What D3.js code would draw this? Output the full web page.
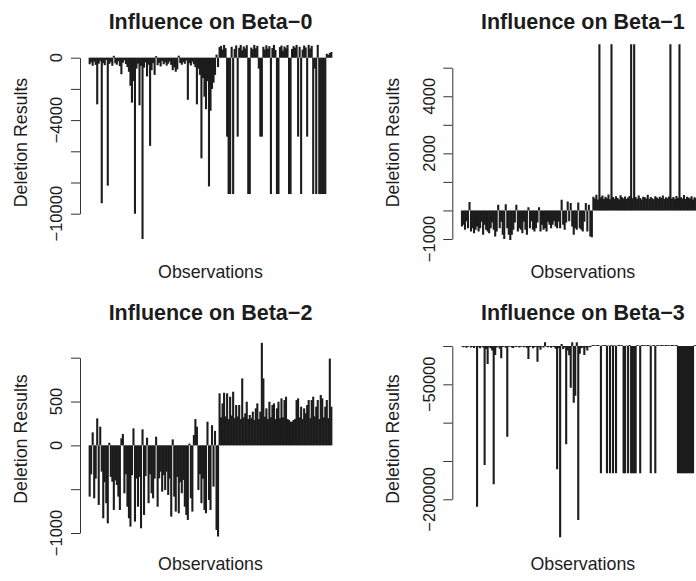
<!DOCTYPE html>
<html><head><meta charset="utf-8">
<script src="https://cdn.jsdelivr.net/npm/d3@7"></script>
<style>
html,body{margin:0;padding:0;background:#fff;}
svg{display:block;font-family:"Liberation Sans",Arial,Helvetica,sans-serif;}
</style></head>
<body>
<svg id="chart" width="696" height="581"></svg>
<script>
// ---------- DATA (observation index 1..161) ----------
const nObs = 161;
const titles = ["Influence on Beta\u22120","Influence on Beta\u22121","Influence on Beta\u22122","Influence on Beta\u22123"];
const xLabel = "Observations";
const yLabel = "Deletion Results";

const beta0 = [
-420,-300,-520,-250,-460,-2990,-380,-210,-9330,-350,
-480,-150,-8200,-400,-280,-520,120,-360,-450,-230,
-540,-1060,-320,-170,-410,-600,-900,-1800,-2880,-1500,
-10000,-700,-380,-3050,-520,-11620,-640,-300,-1200,-450,
-5650,-800,-350,-1100,100,-480,-330,-560,-210,-420,
-300,-510,-380,-240,-460,-800,-620,-900,-750,130,
-340,-450,-280,-390,-180,-2700,-350,-500,-260,-420,
-600,-2990,-700,-1100,-6450,-1300,-2500,-3300,-1500,-8250,
-3400,-2000,-1600,-1100,200,-600,
680,760,520,820,610,-5060,-8740,-8740,700,-8740,
560,790,-5060,640,820,480,720,590,800,-8740,
-8740,650,540,820,600,760,-700,-5060,-5060,700,
520,800,580,740,-8740,620,820,500,-8740,-8740,
680,780,450,720,600,810,-8740,-8740,560,740,
640,820,-5060,700,-8740,520,780,660,-5060,820,
590,760,-8740,-700,-8740,820,-8740,-8740,-8740,-8740,
-8740,250,180,300,370
];
const beta1 = [
-563,-500,-680,-380,-620,300,-738,-620,-797,-680,
-560,-740,-620,-400,-855,-500,-680,-740,-797,-620,
-420,-680,-914,-740,200,-620,-400,-855,-996,220,
-620,-855,-1031,-855,-680,-420,200,-740,-620,-680,
-797,-400,-680,-855,110,-620,-380,-680,-740,-620,
-420,110,-740,-500,-680,-620,-740,-400,-500,-620,
-500,-380,-560,-620,-400,-620,375,-500,-680,-420,
316,-380,260,-560,-855,-620,-680,280,-620,-680,
-740,-400,260,-740,200,-914,-938,
480,420,550,380,5824,460,520,400,480,430,
560,390,5824,470,410,500,440,380,530,460,
420,490,400,450,510,5824,430,5824,470,400,
520,440,380,480,460,420,550,400,470,430,
390,500,450,410,480,440,520,400,460,430,
490,5824,420,470,400,510,440,5824,460,420,
540,400,480,450,420,500,380,460,430,520,
400,470,440,490
];
const beta2 = [
-585,-330,148,-604,-380,308,-680,213,-300,-832,
-420,-660,-890,30,-360,-415,-737,-400,-452,-585,
-737,80,130,-547,-330,-700,-832,-927,-340,194,
-870,-380,-700,-360,-946,183,-794,-350,87,-660,
-330,-547,-604,-380,99,-700,-376,-300,-528,-340,
-510,-300,-566,-380,-813,68,-585,-756,-360,-775,
-420,-547,-395,-700,-794,-851,20,-604,-756,118,
300,213,-510,-330,-660,-380,-737,-775,270,-623,
-737,230,-471,165,-965,-1040,
593,320,479,600,330,593,300,555,340,612,
310,460,330,460,300,764,320,365,498,300,
346,310,384,290,422,479,300,384,1170,764,
327,422,300,498,320,460,479,300,422,498,
310,536,320,517,555,300,289,270,270,289,
300,517,536,320,441,300,422,365,460,517,
310,517,555,330,441,517,300,574,536,320,
441,517,310,990,441
];
const beta3 = [
-800,-1500,-600,-2200,-1000,-400,-1800,-900,-2600,-700,
-209600,-1200,-3000,-800,-1900,-155300,-4000,-23500,-1500,-2800,
-6000,-180400,-11700,-2000,-900,-3500,-16100,-1200,-700,-2400,
-118300,-1000,-600,-1800,-2500,-800,-1400,-500,-2000,-1100,
-700,-1600,-900,-2300,-17000,-1200,-800,-3000,-1500,-900,
-20500,-1300,-5000,-700,-1800,5000,-900,-1500,-600,-2200,
-1000,-1400,-3500,-160900,-3000,-249600,2500,-4000,-2000,-128300,
-6000,-12000,-54400,5000,-74000,-64800,5000,-227000,-10000,-3000,
-2000,-11700,-2000,-6000,-1000,-1500,
800,1200,600,1000,1400,700,-166000,1100,900,1300,
-166000,800,-166000,1200,-166000,1000,-166000,700,1300,900,
1100,-166000,-166000,800,-166000,1200,-166000,-166000,-166000,-166000,
1000,700,-166000,1300,900,1100,800,1200,1000,-166000,
700,1300,-166000,900,1100,800,1200,1000,700,1300,
900,1100,800,1200,1000,700,1300,-166000,-166000,-166000,
-166000,-166000,-166000,-166000,-166000,-166000,-166000,-166000,900,1100,
800,1200,1000,700,1300
];
const seriesValues = [beta0, beta1, beta2, beta3];

const yTickValues = [
  [0,-2000,-4000,-6000,-8000,-10000],
  [-1000,0,1000,2000,3000,4000,5000],
  [-1000,-500,0,500,1000],
  [0,-50000,-100000,-150000,-200000]
];
const yTickLabels = [
  [0,-4000,-10000],
  [-1000,2000,4000],
  [-1000,0,500],
  [-50000,-200000]
];

// ---------- LAYOUT ----------
const panels = [
  {left:80,   yPix:[57.7,213.7], clip:[37,247],  titleY:29.3, xlabY:278.3, ylabY:142.5},
  {left:452.3,yPix:[239,67.7],   clip:[37,247],  titleY:29.3, xlabY:278.3, ylabY:142.5},
  {left:80,   yPix:[533,357.7],  clip:[330,546], titleY:320.3,xlabY:569.5, ylabY:439},
  {left:452.3,yPix:[499.3,346],  clip:[330,546], titleY:320.3,xlabY:569.5, ylabY:439}
];
const plotW = 261;
const ink = "#1c1c1c";
const fmt = v => v < 0 ? "\u2212" + Math.abs(v) : String(v);

const svg = d3.select("#chart");
const obs = d3.range(1, nObs + 1);

panels.forEach((p, k) => {
  const vals = seriesValues[k];
  const ticks = yTickValues[k];
  const pad = 0.04 * (nObs - 1);
  const x = d3.scaleLinear().domain([1 - pad, nObs + pad]).range([p.left, p.left + plotW]);
  const ext = d3.extent(ticks);
  const dom = (p.yPix[0] > p.yPix[1]) ? [ext[0], ext[1]] : [ext[1], ext[0]];
  const y = d3.scaleLinear().domain(dom).range(p.yPix);

  const g = svg.append("g");
  const cid = "clip" + k;
  svg.append("clipPath").attr("id", cid).append("rect")
    .attr("x", p.left).attr("y", p.clip[0]).attr("width", plotW).attr("height", p.clip[1] - p.clip[0]);

  g.append("g").attr("clip-path", `url(#${cid})`)
    .selectAll("line").data(obs).join("line")
    .attr("x1", i => x(i)).attr("x2", i => x(i))
    .attr("y1", y(0)).attr("y2", i => y(vals[i - 1]))
    .attr("stroke", ink).attr("stroke-width", 2.1);

  // y axis
  const labelSet = new Set(yTickLabels[k]);
  const ax = g.append("g").attr("transform", `translate(${p.left},0)`)
    .call(d3.axisLeft(y).tickValues(ticks).tickSize(9).tickSizeOuter(0).tickFormat(""));
  ax.selectAll("path,line").attr("stroke", "#333").attr("stroke-width", 1);
  ax.selectAll(".tick text").remove();
  ticks.filter(t => labelSet.has(t)).forEach(t => {
    g.append("text")
      .attr("transform", `translate(${p.left - 17.8},${y(t)}) rotate(-90)`)
      .attr("text-anchor", "middle").attr("font-size", 16.5).attr("fill", ink)
      .text(fmt(t));
  });

  const cx = p.left + plotW / 2;
  g.append("text").attr("x", cx).attr("y", p.titleY).attr("text-anchor", "middle")
    .attr("font-size", 21.5).attr("font-weight", "bold").attr("fill", ink).text(titles[k]);
  g.append("text").attr("x", cx).attr("y", p.xlabY).attr("text-anchor", "middle")
    .attr("font-size", 17.8).attr("fill", ink).text(xLabel);
  g.append("text")
    .attr("transform", `translate(${p.left - 53.5},${p.ylabY}) rotate(-90)`)
    .attr("text-anchor", "middle").attr("font-size", 17.8).attr("fill", ink).text(yLabel);
});
</script>
</body></html>
